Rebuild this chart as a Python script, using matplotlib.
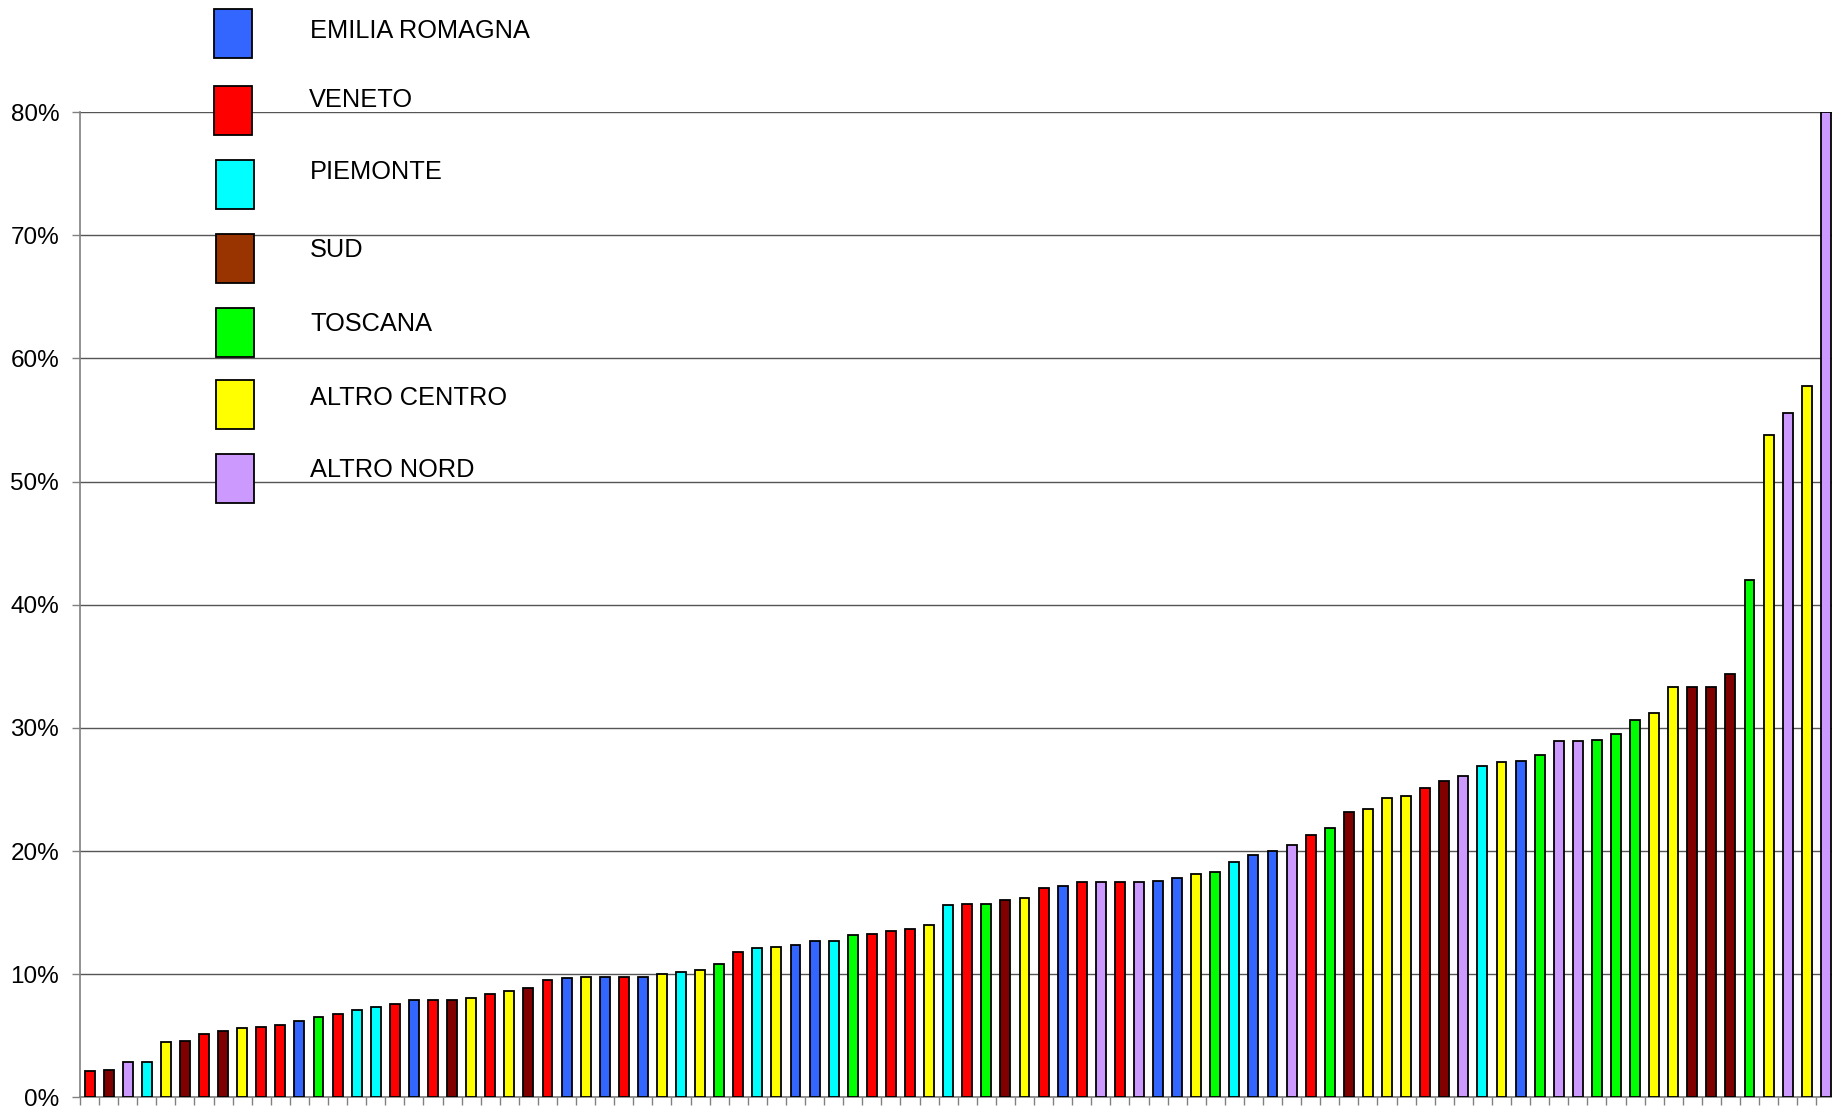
import matplotlib
matplotlib.use("Agg")
import matplotlib.pyplot as plt
from matplotlib.patches import Rectangle
from matplotlib.ticker import FuncFormatter, MultipleLocator
import numpy as np

# regioni (legenda) e colori
regions = ["EMILIA ROMAGNA", "VENETO", "PIEMONTE", "SUD", "TOSCANA",
           "ALTRO CENTRO", "ALTRO NORD"]
codes = ["ER", "VE", "PI", "SU", "TO", "AC", "AN"]
bar_colors = {"ER": "#3366FF", "VE": "#FF0000", "PI": "#00FFFF", "SU": "#800000",
              "TO": "#00FF00", "AC": "#FFFF00", "AN": "#CC99FF"}
legend_colors = {"ER": "#3366FF", "VE": "#FF0000", "PI": "#00FFFF", "SU": "#993300",
                 "TO": "#00FF00", "AC": "#FFFF00", "AN": "#CC99FF"}

# una barra per ogni osservazione, ordinate per valore (%)
bar_region = ["VE", "SU", "AN", "PI", "AC", "SU", "VE", "SU", "AC", "VE",
              "VE", "ER", "TO", "VE", "PI", "PI", "VE", "ER", "VE", "SU",
              "AC", "VE", "AC", "SU", "VE", "ER", "AC", "ER", "VE", "ER",
              "AC", "PI", "AC", "TO", "VE", "PI", "AC", "ER", "ER", "PI",
              "TO", "VE", "VE", "VE", "AC", "PI", "VE", "TO", "SU", "AC",
              "VE", "ER", "VE", "AN", "VE", "AN", "ER", "ER", "AC", "TO",
              "PI", "ER", "ER", "AN", "VE", "TO", "SU", "AC", "AC", "AC",
              "VE", "SU", "AN", "PI", "AC", "ER", "TO", "AN", "AN", "TO",
              "TO", "TO", "AC", "AC", "SU", "SU", "SU", "TO", "AC", "AN",
              "AC", "AN"]
bar_value = [2.1, 2.2, 2.9, 2.9, 4.5, 4.6, 5.1, 5.4, 5.6, 5.7,
             5.9, 6.2, 6.5, 6.8, 7.1, 7.3, 7.6, 7.9, 7.9, 7.9,
             8.1, 8.4, 8.6, 8.9, 9.5, 9.7, 9.8, 9.8, 9.8, 9.8,
             10.0, 10.2, 10.3, 10.8, 11.8, 12.1, 12.2, 12.4, 12.7, 12.7,
             13.2, 13.3, 13.5, 13.7, 14.0, 15.6, 15.7, 15.7, 16.0, 16.2,
             17.0, 17.2, 17.5, 17.5, 17.5, 17.5, 17.6, 17.8, 18.1, 18.3,
             19.1, 19.7, 20.0, 20.5, 21.3, 21.9, 23.2, 23.4, 24.3, 24.5,
             25.1, 25.7, 26.1, 26.9, 27.2, 27.3, 27.8, 28.9, 28.9, 29.0,
             29.5, 30.6, 31.2, 33.3, 33.3, 33.3, 34.4, 42.0, 53.8, 55.6,
             57.8, 80.0]

W, H = 1833, 1106
fig = plt.figure(figsize=(W / 100, H / 100), dpi=100)
plt.rcParams['font.family'] = ['Liberation Sans', 'DejaVu Sans']

# area del grafico in pixel
left, right, bottom, top = 80, 1835.4, 1097.3, 112.2
ax = fig.add_axes([left / W, (H - bottom) / H, (right - left) / W, (bottom - top) / H])

x = np.arange(1, len(bar_value) + 1)
ax.bar(x, bar_value, width=0.52, color=[bar_colors[c] for c in bar_region],
       edgecolor="black", linewidth=1.3, zorder=3)

ax.set_xlim(0.5, len(bar_value) + 0.5)
ax.set_ylim(0, 80)
ax.yaxis.set_major_locator(MultipleLocator(10))
ax.yaxis.set_major_formatter(FuncFormatter(lambda v, p: "%d%%" % v))
ax.yaxis.grid(True, color="#555555", linewidth=1.0, zorder=0)
ax.set_axisbelow(True)

ax.set_xticks([])
ax.set_xticks(np.arange(0.5, len(bar_value) + 1), minor=True)
ax.tick_params(axis="x", which="minor", length=6, width=1, color="#808080", direction="out")
ax.tick_params(axis="y", length=6, width=1, color="#808080", pad=9, labelsize=17.5)

for s in ["top", "right"]:
    ax.spines[s].set_visible(False)
for s in ["left", "bottom"]:
    ax.spines[s].set_color("#808080")
    ax.spines[s].set_linewidth(1.2)

# legenda disegnata a mano come nell'originale
box_x = [214, 214, 216, 216, 216, 216, 216]
box_y = [9, 86, 160, 234, 308, 380, 454]
text_x = [310, 309, 310, 310, 310, 310, 310]
text_base = [38, 107, 179, 257, 331, 405, 477]
for i, c in enumerate(codes):
    fig.add_artist(Rectangle((box_x[i] / W, 1 - (box_y[i] + 49) / H), 38 / W, 49 / H,
                             transform=fig.transFigure, facecolor=legend_colors[c],
                             edgecolor="black", linewidth=1.3, zorder=5))
    fig.text(text_x[i] / W, 1 - text_base[i] / H, regions[i], fontsize=18.3,
             va="baseline", ha="left", zorder=5)

fig.savefig("out.png", dpi=100)
